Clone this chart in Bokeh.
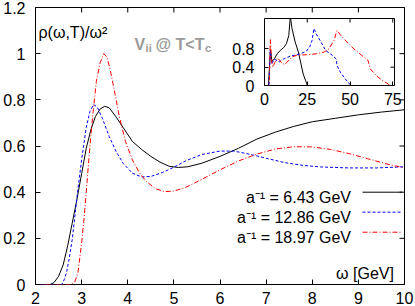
import math
from bokeh.plotting import figure
from bokeh.models import Range1d, FixedTicker, Label
from bokeh.layouts import column
from bokeh.embed import file_html
from bokeh.resources import INLINE

FONT = "Liberation Sans"

# ---------------- data ----------------
series_names = ["a⁻¹ = 6.43 GeV", "a⁻¹ = 12.86 GeV", "a⁻¹ = 18.97 GeV"]
series_colors = ["#000000", "#0000ff", "#ff0000"]
series_dashes = ["solid", "3 2", "5 2 1 2"]

w_643 = [2.00, 2.32, 2.40, 2.50, 2.60, 2.70, 2.80, 2.90, 3.00, 3.10, 3.20, 3.30, 3.40, 3.50,
         3.60, 3.75, 3.90, 4.10, 4.30, 4.50, 4.70, 4.90, 5.10, 5.30, 5.60, 6.00, 6.40, 6.80,
         7.20, 7.60, 8.00, 8.50, 9.00, 9.50, 10.00]
rho_643 = [0.0, 0.0, 0.008, 0.035, 0.085, 0.17, 0.27, 0.37, 0.48, 0.59, 0.67, 0.728, 0.760, 0.772,
           0.765, 0.725, 0.68, 0.62, 0.585, 0.555, 0.53, 0.512, 0.507, 0.51, 0.525, 0.555, 0.59, 0.63,
           0.66, 0.685, 0.705, 0.72, 0.735, 0.747, 0.757]

w_1286 = [2.00, 2.57, 2.62, 2.67, 2.72, 2.80, 2.90, 3.00, 3.10, 3.18, 3.26, 3.34, 3.45, 3.60,
          3.75, 3.90, 4.10, 4.30, 4.50, 4.75, 5.00, 5.25, 5.60, 6.00, 6.30, 6.70, 7.00, 7.40,
          7.80, 8.20, 8.80, 9.40, 10.00]
rho_1286 = [0.0, 0.0, 0.02, 0.05, 0.10, 0.20, 0.38, 0.54, 0.68, 0.75, 0.78, 0.768, 0.72, 0.64,
            0.575, 0.525, 0.482, 0.466, 0.468, 0.485, 0.508, 0.535, 0.563, 0.578, 0.578, 0.562, 0.547, 0.528,
            0.516, 0.509, 0.505, 0.505, 0.51]

w_1897 = [2.00, 2.78, 2.85, 2.92, 3.00, 3.05, 3.10, 3.18, 3.25, 3.32, 3.40, 3.48, 3.55, 3.62,
          3.70, 3.82, 3.95, 4.10, 4.25, 4.40, 4.60, 4.80, 5.00, 5.25, 5.60, 6.00, 6.40, 6.80,
          7.20, 7.60, 8.00, 8.40, 8.80, 9.20, 9.60, 10.00]
rho_1897 = [0.0, 0.0, 0.01, 0.05, 0.18, 0.28, 0.40, 0.60, 0.75, 0.88, 0.96, 1.0, 0.985, 0.93,
            0.85, 0.725, 0.62, 0.54, 0.485, 0.447, 0.415, 0.402, 0.405, 0.42, 0.455, 0.497, 0.535, 0.565,
            0.587, 0.597, 0.596, 0.585, 0.567, 0.545, 0.523, 0.505]

# inset (full range)
iw_643 = [0.0, 2.3, 2.9, 3.5, 4.4, 5.7, 7.6, 9.4, 11.3, 12.8, 14.2, 15.1, 16.1, 17.9, 19.8,
          21.1, 22.6, 24.0, 25.1]
irho_643 = [0.0, 0.0, 0.40, 0.77, 0.52, 0.58, 0.70, 0.77, 0.83, 0.91, 1.09, 1.50, 1.24, 0.95, 0.73,
            0.51, 0.25, 0.11, 0.0]

iw_1286 = [0.0, 2.6, 3.3, 4.2, 5.7, 6.6, 8.5, 11.3, 15.1, 18.9, 21.7, 24.5, 26.4, 27.8, 28.9,
           30.2, 33.0, 35.8, 39.6, 41.9, 42.4, 44.3, 47.1, 50.0, 50.4]
irho_1286 = [0.0, 0.0, 0.78, 0.47, 0.57, 0.56, 0.51, 0.58, 0.64, 0.67, 0.70, 0.75, 0.84, 0.98, 1.24,
             1.13, 0.95, 0.76, 0.66, 0.58, 0.44, 0.29, 0.15, 0.02, 0.0]

iw_1897 = [0.0, 2.8, 3.4, 4.2, 4.9, 6.0, 7.7, 10.0, 11.7, 13.2, 16.0, 18.9, 24.5, 30.2, 34.9,
           37.7, 40.6, 42.4, 45.3, 51.0, 56.7, 60.5, 61.9, 65.2, 68.9, 73.7]
irho_1897 = [0.0, 0.0, 1.0, 0.51, 0.40, 0.50, 0.60, 0.50, 0.45, 0.51, 0.62, 0.66, 0.67, 0.69, 0.73,
             0.80, 0.98, 1.20, 1.06, 0.84, 0.66, 0.55, 0.36, 0.22, 0.11, 0.0]

x_ticks = [2, 3, 4, 5, 6, 7, 8, 9, 10]
y_ticks = [0, 0.2, 0.4, 0.6, 0.8, 1.0, 1.2]
y_tick_labels = ["0", "0.2", "0.4", "0.6", "0.8", "1", "1.2"]
ix_ticks = [0, 25, 50, 75]
iy_ticks = [0, 0.4, 0.8]
iy_tick_labels = ["0", "0.4", "0.8"]

main_series = [(w_643, rho_643), (w_1286, rho_1286), (w_1897, rho_1897)]
inset_series = [(iw_643, irho_643), (iw_1286, irho_1286), (iw_1897, irho_1897)]


def style_axes(fig, xt, yt, ylabels, tick_len):
    for ax in fig.xaxis + fig.yaxis:
        ax.major_tick_in = tick_len
        ax.major_tick_out = 0
        ax.minor_tick_line_color = None
        ax.axis_line_color = None
        ax.major_tick_line_color = "black"
        ax.major_label_text_font = FONT
        ax.major_label_text_font_size = "16px"
        ax.major_label_text_color = "black"
    fig.xaxis.ticker = FixedTicker(ticks=xt)
    fig.yaxis.ticker = FixedTicker(ticks=yt)
    fig.xaxis.major_label_standoff = 7
    fig.yaxis.major_label_standoff = 10
    fig.yaxis.major_label_overrides = {t: l for t, l in zip(yt, ylabels)}
    # mirrored inward ticks on the top and right frame edges (half of each dash is clipped away)
    x_end = fig.x_range.end
    y_end = fig.y_range.end
    fig.scatter(xt, [y_end] * len(xt), marker="dash", size=2 * tick_len, angle=math.pi / 2,
                line_color="black", line_width=1)
    fig.scatter([x_end] * len(yt), yt, marker="dash", size=2 * tick_len,
                line_color="black", line_width=1)
    fig.xgrid.visible = False
    fig.ygrid.visible = False
    fig.outline_line_color = "black"
    fig.outline_line_width = 1


# ---------------- main figure ----------------
p = figure(width=415, height=306, x_range=Range1d(2, 10), y_range=Range1d(0, 1.2),
           output_backend="svg", toolbar_location=None,
           min_border_left=32, min_border_right=11, min_border_top=7, min_border_bottom=22)
style_axes(p, x_ticks, y_ticks, y_tick_labels, 5)

for (xs, ys), c, d in zip(main_series, series_colors, series_dashes):
    p.line(xs, ys, line_color=c, line_dash=d, line_width=1)

# texts
p.add_layout(Label(x=2.065, y=1.091, text="ρ(ω,T)/ω²", text_font=FONT, text_font_size="16px",
                   text_align="left", text_baseline="alphabetic", text_color="black"))
gray = "#999999"
for tx, x, y, fs in [("V", 4.144, 1.0386, "16px"), ("ii", 4.387, 1.026, "11px"),
                     ("@ T<T", 4.602, 1.0386, "16px"), ("c", 5.677, 1.026, "11px")]:
    p.add_layout(Label(x=x, y=y, text=tx, text_font=FONT, text_font_size=fs, text_font_style="bold",
                       text_align="left", text_baseline="alphabetic", text_color=gray))
p.add_layout(Label(x=9.77, y=0.0464, text="ω [GeV]", text_font=FONT, text_font_size="16px",
                   text_align="right", text_baseline="alphabetic", text_color="black"))

leg_text_y = [0.3757, 0.289, 0.2023]
leg_line_y = [0.3999, 0.3133, 0.2266]
for name, ty, ly, c, d in zip(series_names, leg_text_y, leg_line_y, series_colors, series_dashes):
    p.add_layout(Label(x=8.839, y=ty, text=name, text_font=FONT, text_font_size="16px",
                       text_align="right", text_baseline="alphabetic", text_color="black"))
    p.segment(x0=[9.09], y0=[ly], x1=[9.95], y1=[ly], line_color=c, line_dash=d, line_width=1)

# ---------------- inset ----------------
ins = figure(width=176, height=110, x_range=Range1d(0, 76), y_range=Range1d(0, 1.46),
             output_backend="svg", toolbar_location=None,
             min_border_left=32, min_border_right=10, min_border_top=3, min_border_bottom=40)
ins.background_fill_color = "white"
ins.border_fill_color = None
for (xs, ys), c, d in zip(inset_series, series_colors, series_dashes):
    ins.line(xs, ys, line_color=c, line_dash=d, line_width=1)
style_axes(ins, ix_ticks, iy_ticks, iy_tick_labels, 4)
ins.styles = {"position": "absolute", "left": "229px", "top": "15px"}

root = column(p, ins)
root.styles = {"position": "relative"}

open("out.html", "w").write(file_html(root, INLINE))
